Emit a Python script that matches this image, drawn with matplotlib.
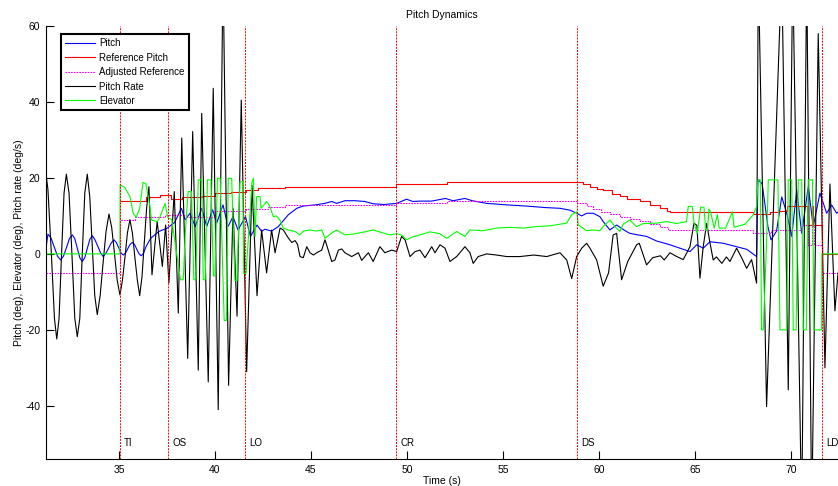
import matplotlib
matplotlib.use("Agg")
import matplotlib.pyplot as plt

plt.rcParams['font.family'] = ['Liberation Sans', 'DejaVu Sans']
plt.rcParams['axes.unicode_minus'] = False

# ---------------- data ----------------
pitch_t = [31.20, 31.30, 31.46, 31.63, 31.80, 31.96, 32.11, 32.27, 32.42, 32.57, 32.70, 32.83, 32.96,
           33.09, 33.22, 33.35, 33.48, 33.61, 33.75, 33.90, 34.04, 34.18, 34.32, 34.46, 34.60, 34.74,
           34.86, 34.98, 35.10, 35.22, 35.34, 35.46, 35.58, 35.69, 35.81, 35.93, 36.05, 36.16, 36.28,
           36.40, 36.65, 37.08,
           37.52, 37.90, 38.25, 38.45, 38.70, 38.97, 39.31, 39.57, 39.88, 40.09, 40.42, 40.68, 40.94,
           41.20, 41.59, 41.85, 42.19, 42.43, 42.60, 42.95, 43.30, 43.82, 44.26, 44.60, 45.21, 45.73,
           46.08, 46.34, 46.77, 47.30, 47.80, 48.24, 48.80, 49.46, 49.98, 50.30, 50.68, 51.29, 52.00,
           52.40, 53.02, 53.40, 54.15, 55.20, 56.20, 57.20, 57.97, 58.50, 58.84, 59.10, 59.36, 59.70,
           60.05, 60.22, 60.57, 60.92, 61.30, 61.61, 62.48, 63.00, 63.70, 64.22, 64.74, 65.09, 65.43,
           65.78, 66.47, 67.17, 67.70, 68.21, 68.28, 68.50, 68.80, 68.96, 69.25, 69.52, 69.78, 70.04,
           70.30, 70.56, 70.90, 71.16, 71.51, 71.86, 72.12, 72.38, 72.45]
pitch_v = [1.5, 5.2, 4.2, 1.8, -0.6, -1.6, -0.6, 1.7, 4.0, 5.0, 4.0, 1.5, -1.0,
           -2.0, -1.0, 1.4, 3.8, 4.8, 3.7, 2.0, 0.3, -0.7, 0.2, 1.5, 2.9, 3.7,
           3.0, 1.7, 0.3, -0.3, 0.2, 1.4, 2.5, 3.0, 2.5, 1.2, 0.0, -0.5, 0.2,
           1.8, 4.1, 5.9,
           6.8, 8.3, 12.0, 9.0, 10.7, 7.2, 12.0, 7.2, 11.6, 8.1, 12.9, 7.2, 9.8,
           6.3, 9.8, 4.6, 7.6, 5.9, 6.5, 6.0, 7.2, 10.3, 12.0, 12.6, 12.9, 13.3,
           13.8, 13.3, 14.0, 14.0, 13.8, 13.2, 13.0, 13.3, 14.4, 13.8, 13.9, 13.9, 14.6,
           14.0, 14.6, 14.0, 13.3, 12.9, 12.6, 12.2, 12.0, 11.5, 10.7, 10.0, 10.7, 10.7,
           9.8, 8.5, 6.3, 7.6, 6.3, 5.4, 4.6, 3.4, 2.4, 1.5, 0.6, 2.4, 1.5,
           3.2, 2.8, 1.9, 1.2, -0.7, 19.5, 18.5, 7.2, 3.7, 6.0, 15.0, 10.7, 4.6,
           16.8, 5.4, 17.7, 7.2, 16.0, 10.7, 12.9, 10.7, 11.0]

ref_t = [35.05, 36.39, 37.14, 37.70, 38.28, 39.31, 40.00, 40.84, 41.62, 42.24, 43.65, 49.43, 52.07,
         58.87, 59.18, 59.53, 59.90, 60.22, 60.66, 61.09, 61.44, 62.14, 62.66, 63.18, 63.53, 63.70,
         68.04, 68.91, 69.32, 69.78, 70.82, 71.08, 71.16, 71.60, 72.45]
ref_v = [14.0, 15.1, 15.4, 14.5, 14.9, 15.3, 16.0, 16.4, 16.8, 17.3, 17.7, 18.3, 18.9,
         18.9, 18.3, 17.5, 17.0, 16.7, 15.8, 15.2, 14.4, 13.8, 12.9, 12.2, 11.4, 11.1,
         10.5, 11.1, 11.4, 12.5, 7.5, 12.5, 7.5, 0.0, 0.0]

adj_t = [31.20, 35.05, 35.85, 37.40, 38.52, 40.00, 41.62, 42.76, 43.65, 49.43, 52.07, 58.87, 59.36,
         59.71, 60.10, 60.57, 61.09, 61.61, 62.14, 62.66, 63.18, 63.62, 68.04, 68.96, 70.56, 70.90,
         71.08, 71.20, 71.60, 72.45]
adj_v = [-5.1, 9.0, 9.8, 10.3, 9.8, 11.4, 11.8, 12.3, 12.8, 13.4, 13.9, 13.3, 12.6,
         11.8, 11.1, 10.4, 9.8, 9.2, 8.6, 7.9, 7.1, 6.3, 5.4, 6.3, 7.6, 2.4,
         7.6, 2.4, -5.1, -5.1]

rate_t = [31.20, 31.30, 31.48, 31.64, 31.76, 31.88, 32.01, 32.14, 32.26, 32.40, 32.55, 32.70, 32.83,
          32.96, 33.09, 33.22, 33.35, 33.48, 33.61, 33.74, 33.87, 34.02, 34.18, 34.33, 34.48, 34.62,
          34.77, 34.91, 35.05, 35.18, 35.31, 35.44, 35.57, 35.70, 35.83, 35.96, 36.08, 36.20, 36.32,
          36.44, 36.56, 36.72, 36.99,
          37.26, 37.43, 37.60, 37.88, 38.09, 38.27, 38.58, 38.84, 39.13, 39.31, 39.65, 39.91, 40.17,
          40.42, 40.71, 40.94, 41.15, 41.37, 41.65, 41.93, 42.19, 42.43, 42.69, 42.95, 43.13, 43.39,
          43.56, 43.82, 44.00, 44.17, 44.30, 44.43, 44.60, 44.78, 44.95, 45.13, 45.30, 45.56, 45.73,
          45.90, 46.08, 46.25, 46.43, 46.60, 46.77, 47.12, 47.47, 47.64, 47.99, 48.24, 48.59, 48.85,
          49.20, 49.46, 49.72, 49.90, 50.16, 50.42, 50.68, 50.94, 51.29, 51.46, 51.72, 51.98, 52.24,
          52.59, 53.02, 53.28, 53.45, 53.71, 54.15, 54.67, 55.19, 55.89, 56.60, 57.28, 57.97, 58.32,
          58.58, 58.84, 59.10, 59.36, 59.53, 59.88, 60.22, 60.50, 60.74, 60.92, 61.18, 61.50, 61.96,
          62.10, 62.48, 62.80, 63.20, 63.40, 63.70, 64.05, 64.39, 64.74, 64.95, 65.10, 65.26, 65.43,
          65.61, 65.78, 65.95, 66.12, 66.40, 66.64, 66.82, 67.17, 67.43, 67.69, 67.95, 68.21, 68.30,
          68.73, 69.52, 69.86, 70.09, 70.56, 70.82, 71.08, 71.42, 71.77, 72.03, 72.29, 72.45]
rate_v = [21.0, 17.0, 0.0, -17.0, -22.4, -17.0, 0.0, 16.0, 21.0, 16.0, 0.0, -17.0, -21.8,
          -17.0, 0.0, 16.0, 21.0, 15.0, 2.0, -11.0, -16.0, -11.0, -2.0, 6.0, 10.5, 7.0,
          0.0, -7.0, -10.8, -7.0, -1.0, 5.5, 9.0, 5.5, -1.0, -7.0, -11.0, -6.0, 3.0,
          12.0, 17.7, -5.5, 8.5,
          -3.3, 7.6, -7.7, 16.4, -15.6, 30.5, -27.5, 32.2, -30.6, 37.0, -33.7, 43.6, -41.0,
          75.0, -34.6, 12.0, -16.4, 40.5, -31.0, 18.0, -11.0, 6.3, -5.0, 6.3, 0.3, 6.8,
          6.3, 4.2, 3.0, 3.5, 2.5, -0.7, -1.0, 1.9, 0.3, -0.3, 0.3, 1.0, 3.7,
          1.0, -2.0, -1.6, 1.0, 1.3, 0.3, -0.7, 0.3, -1.7, 0.3, -2.0, 1.9, 0.3,
          1.0, 0.6, 4.6, 3.7, -0.7, 0.6, 1.0, -1.0, 1.9, 0.3, 2.4, 1.5, -2.0,
          -0.7, 1.9, 0.3, -2.5, -0.7, 0.0, -0.3, -0.7, -0.7, -0.3, -0.7, 0.3, -1.6,
          -6.5, -0.7, 1.5, 2.8, 1.5, -1.6, -8.5, -5.0, 5.0, 5.4, -6.8, -2.0, 2.4,
          2.8, -2.9, -1.0, -0.5, -1.6, 0.3, -0.7, -1.5, 1.9, 8.1, 7.5, -6.4, 1.9,
          8.0, 3.0, -1.6, -0.8, -2.5, -0.8, -2.0, 1.5, -1.0, -3.8, -1.5, -7.7, 75.0,
          -40.2, 75.0, -35.8, 75.0, -70.0, 75.0, -70.0, 58.0, -30.0, 18.4, -15.0, -5.0]

elev_t = [31.20, 35.05, 35.06, 35.30, 35.57, 35.74, 35.90, 36.08, 36.25, 36.40, 36.60, 36.70, 37.00,
          37.14, 37.40, 37.55, 37.75, 37.98, 38.20, 38.35, 38.45, 38.60, 38.78, 38.90, 39.00, 39.13,
          39.31, 39.39, 39.49, 39.61, 39.79, 39.92, 40.00, 40.13, 40.27, 40.48, 40.60, 40.69, 40.87,
          41.04, 41.15, 41.30, 41.45, 41.50, 41.62, 41.93, 42.00, 42.09, 42.17, 42.35, 42.40, 42.69,
          42.86, 43.04, 43.20, 43.39, 43.56, 43.82, 44.17, 44.43, 44.60, 44.95, 45.30, 45.56, 45.73,
          46.08, 46.34, 46.77, 47.30, 47.80, 48.24, 48.50, 49.11, 49.46, 49.72, 49.98, 50.30, 50.68,
          51.20, 51.72, 52.07, 52.59, 53.02, 53.28, 53.97, 54.67, 55.36, 56.06, 56.75, 57.45, 58.32,
          58.58, 58.84, 58.93, 59.36, 59.71, 60.05, 60.22, 60.57, 60.83, 61.09, 61.26, 61.61, 61.96,
          62.31, 63.00, 63.52, 64.04, 64.56, 64.65, 64.86, 64.95, 65.12, 65.30, 65.47, 65.56, 65.65,
          65.73, 65.82, 66.00, 66.17, 66.26, 66.60, 66.95, 67.04, 67.60, 68.04, 68.21, 68.28, 68.40,
          68.47, 68.56, 68.73, 68.82, 69.32, 69.43, 69.78, 69.86, 70.04, 70.12, 70.27, 70.38, 70.56,
          70.64, 70.80, 70.90, 71.12, 71.20, 71.60, 71.61, 72.45]
elev_v = [0.0, 0.0, 18.2, 17.5, 15.1, 10.7, 9.6, 12.0, 18.8, 18.5, 12.9, 8.9, 8.5,
          9.8, 13.3, 9.5, 9.0, 1.0, -6.8, -6.8, 5.0, 16.4, 16.4, -6.8, -6.8, 19.5,
          19.5, -6.8, -6.8, 19.5, 19.5, -5.8, -5.8, 19.9, 19.9, -17.5, -17.5, 19.9, 19.9,
          -7.0, -7.0, 19.0, 19.0, -5.1, -5.1, 19.0, 19.9, 4.6, 15.1, 15.1, 12.0, 13.8,
          12.5, 9.8, 10.0, 8.9, 6.8, 6.3, 5.9, 5.0, 6.0, 6.3, 6.0, 6.3, 4.1,
          5.5, 6.3, 5.0, 5.3, 5.8, 6.3, 5.9, 5.0, 5.3, 5.0, 3.7, 4.5, 5.0,
          5.8, 5.3, 4.1, 5.9, 4.6, 6.3, 6.1, 6.8, 7.0, 6.8, 7.2, 7.4, 8.1,
          10.3, 11.1, 7.6, 6.1, 6.3, 6.1, 7.2, 8.9, 7.2, 5.9, 7.8, 8.9, 7.2,
          8.0, 8.1, 8.5, 8.0, 8.5, 12.5, 12.5, 8.1, 5.4, 12.3, 12.3, 6.2, 6.2,
          11.8, 11.0, 6.8, 10.3, 6.8, 6.8, 11.1, 7.0, 7.8, 10.3, 12.5, 19.5, 19.5,
          -20.0, -20.0, 3.0, 19.5, 19.5, -20.0, -20.0, 19.5, 19.5, -20.0, -20.0, 19.5, 19.5,
          -20.0, -20.0, 19.5, 19.5, -20.0, -20.0, 0.0, 0.0]

event_times = [35.05, 37.55, 41.59, 49.43, 58.87, 71.60]
event_labels = ['TI', 'OS', 'LO', 'CR', 'DS', 'LD']

x_ticks = [35, 40, 45, 50, 55, 60, 65, 70]
y_ticks = [-40, -20, 0, 20, 40, 60]

# ---------------- figure ----------------
W, H = 838, 486
fig = plt.figure(figsize=(W / 100, H / 100), dpi=100)
ax = fig.add_axes([46 / W, 27 / H, 792 / W, 433 / H])

lw = 0.8
ax.plot(pitch_t, pitch_v, color='#0000ff', lw=lw, label='Pitch')
ax.step(ref_t, ref_v, where='post', color='#ff0000', lw=lw, label='Reference Pitch')
ax.step(adj_t, adj_v, where='post', color='#ff00ff', lw=lw, ls=(0, (1.5, 1)), label='Adjusted Reference')
ax.plot(rate_t, rate_v, color='#000000', lw=lw, label='Pitch Rate')
ax.plot(elev_t, elev_v, color='#00ff00', lw=lw, label='Elevator')

for t, lab in zip(event_times, event_labels):
    ax.axvline(t, color='#ff0000', lw=0.7, ls=(0, (2, 1.2)))
    ax.annotate(lab, xy=(t, -49.7), xytext=(3, 0), textcoords='offset points',
                fontsize=7, va='center', ha='left')

ax.set_xlim(31.2, 72.45)
ax.set_ylim(-54, 60)
ax.set_xticks(x_ticks)
ax.set_yticks(y_ticks)
ax.tick_params(direction='in', length=6, width=0.8, labelsize=7.5, pad=4)
for s in ['top', 'right']:
    ax.spines[s].set_visible(False)
for s in ['left', 'bottom']:
    ax.spines[s].set_linewidth(0.8)

ax.set_title('Pitch Dynamics', fontsize=7.5, pad=5.5)
ax.set_xlabel('Time (s)', fontsize=7.5, labelpad=1)
ax.set_ylabel('Pitch (deg), Elevator (deg), Pitch rate (deg/s)', fontsize=7.5, labelpad=1)

leg = ax.legend(loc='upper left', bbox_to_anchor=(0.019, 0.9815), borderaxespad=0,
                fontsize=7, fancybox=False, framealpha=1, edgecolor='black',
                handlelength=3.0, borderpad=0.45, labelspacing=0.45, handletextpad=0.45)
leg.get_frame().set_linewidth(1.5)

fig.savefig('out.png', dpi=100)
